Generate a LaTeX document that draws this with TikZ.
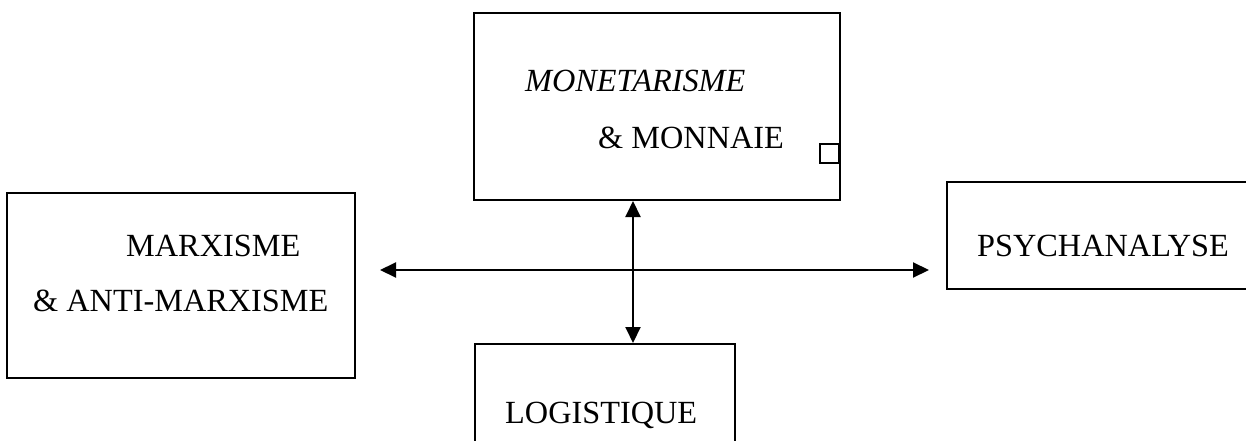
\documentclass[tikz,border=0pt]{standalone}
\usepackage{fontspec}
\setmainfont{Liberation Serif}
\usetikzlibrary{arrows.meta}
\begin{document}
\begin{tikzpicture}[x=1pt,y=-1pt,
  box/.style={draw,line width=2pt,rectangle,inner sep=0pt},
  lbl/.style={anchor=base west,inner sep=0pt,font=\fontsize{32.3}{38}\selectfont},
  conn/.style={line width=2pt,{Triangle[length=16pt,width=15pt]}-{Triangle[length=16pt,width=15pt]}}]
\clip (0,0) rectangle (1246,441);
\fill[white] (0,0) rectangle (1246,441);
% boxes
\node[box,minimum width=366pt,minimum height=187pt] (top) at (657,106.5) {};
\node[box,minimum width=348pt,minimum height=185pt] (left) at (181,285.5) {};
\node[box,minimum width=340pt,minimum height=107pt] (right) at (1117,235.5) {};
\node[box,minimum width=260pt,minimum height=140pt] (bot) at (605,414) {};
\node[draw,line width=1.6pt,minimum width=19pt,minimum height=19pt,inner sep=0pt,anchor=east] (sq) at (840,153.5) {};
% labels
\node[lbl,font=\fontsize{32.3}{38}\selectfont\itshape] (t1) at (525,92) {MONETARISME};
\node[lbl] (t2) at (598,148) {\& MONNAIE};
\node[lbl] (l1) at (126,256) {MARXISME};
\node[lbl] (l2) at (33,311) {\& ANTI-MARXISME};
\node[lbl] (r1) at (977,256) {PSYCHANALYSE};
\node[lbl] (b1) at (505,423) {LOGISTIQUE};
% connectors
\coordinate (vx) at (633,0);
\coordinate (hl) at (380,270);
\coordinate (hr) at (929,270);
\draw[conn] (top.south -| vx) -- (bot.north -| vx);
\draw[conn] (hl) -- (hr);
\end{tikzpicture}
\end{document}
